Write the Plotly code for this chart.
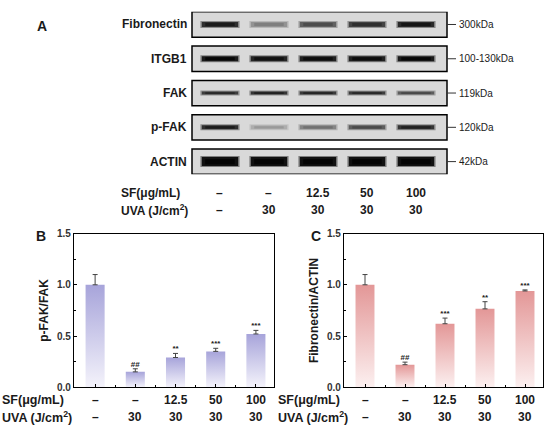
import plotly.graph_objects as go

# ---- data ----
lanes = [1, 2, 3, 4, 5]
sf_labels = ['–', '–', '12.5', '50', '100']
uva_labels = ['–', '30', '30', '30', '30']

proteins = ['Fibronectin', 'ITGB1', 'FAK', 'p-FAK', 'ACTIN']
weights = ['300kDa', '100-130kDa', '119kDa', '120kDa', '42kDa']
# band darkness per lane (0 = invisible, 1 = black)
band_fibronectin = [0.85, 0.35, 0.6, 0.75, 0.88]
band_itgb1 = [0.95, 0.9, 0.92, 0.92, 0.95]
band_fak = [0.78, 0.82, 0.8, 0.78, 0.62]
band_pfak = [0.85, 0.22, 0.42, 0.62, 0.82]
band_actin = [1.0, 1.0, 1.0, 1.0, 1.0]

pfak_mean = [1.0, 0.15, 0.29, 0.35, 0.52]
pfak_err = [0.10, 0.03, 0.04, 0.03, 0.035]
pfak_sig = ['', '##', '**', '***', '***']

fn_mean = [1.0, 0.22, 0.62, 0.765, 0.94]
fn_err = [0.10, 0.025, 0.055, 0.07, 0.01]
fn_sig = ['', '##', '***', '**', '***']

W, H = 550, 437
FONT = 'Liberation Sans'
INK = '#1a1a1a'


def py(px):
    return 1 - px / H


def px_x(px):
    return px / W


def label(text, x, y, size, xref='paper', yref='paper', xanchor='center', bold=True, **kw):
    fig.add_annotation(xref=xref, yref=yref, x=x, y=y, text=text, showarrow=False,
                       xanchor=xanchor, yanchor='middle',
                       font=dict(size=size, weight='bold' if bold else 'normal'), **kw)


bands = [band_fibronectin, band_itgb1, band_fak, band_pfak, band_actin]
band_px = [5, 5, 3, 4, 9]

fig = go.Figure()

# ---- panel A: blots ----
for r, (vals, th) in enumerate(zip(bands, band_px)):
    for lane, d in zip(lanes, vals):
        g = int(217 - 200 * d)
        layers = [
            (0.40, th + 2, 'rgb({0},{0},{0})'.format(int(217 - 90 * d))),
            (0.37, th, 'rgb({0},{0},{0})'.format(g)),
            (0.30, max(th * 0.6, 1.5), 'rgb({0},{0},{0})'.format(max(g - 20, 5))),
        ]
        for half, wd, col in layers:
            fig.add_trace(go.Scatter(
                x=[lane - half, lane + half], y=[r, r], mode='lines',
                line=dict(color=col, width=wd), xaxis='x', yaxis='y',
                hoverinfo='skip', showlegend=False))

for r, (name, kda) in enumerate(zip(proteins, weights)):
    fig.add_shape(type='rect', xref='x domain', yref='y', x0=0, x1=1,
                  y0=r - 0.369, y1=r + 0.369, line=dict(color='black', width=1.5),
                  fillcolor='#d9d9d9', layer='below')
    fig.add_shape(type='line', xref='x domain', yref='y', x0=1, x1=1 + 9 / 255,
                  y0=r, y1=r, line=dict(color='#333', width=1))
    label(name, 0, r, 12, xref='x domain', yref='y', xanchor='right', xshift=-3)
    label(kda, 1 + 10 / 255, r, 10, xref='x domain', yref='y', xanchor='left', bold=False)

label('A', px_x(42), py(21), 14)
label('SF(μg/mL)', px_x(119), py(192), 12, xanchor='left')
label('UVA (J/cm<sup>2</sup>)', px_x(119), py(210), 12, xanchor='left')
for lane, s, u in zip(lanes, sf_labels, uva_labels):
    label(s, lane, py(192), 12, xref='x')
    label(u, lane, py(210), 12, xref='x')


# ---- panels B and C: bar charts ----
def add_bars(means, errs, sig, top, bottom, xa, ya):
    for lane, m in zip(lanes, means):
        hw = 0.237
        fig.add_trace(go.Scatter(
            x=[lane - hw, lane - hw, lane + hw, lane + hw, lane - hw],
            y=[0, m, m, 0, 0], mode='lines', fill='toself',
            fillgradient=dict(type='vertical', colorscale=[[0, bottom], [1, top]]),
            line=dict(width=0), xaxis=xa, yaxis=ya, hoverinfo='skip', showlegend=False))
    fig.add_trace(go.Scatter(
        x=lanes, y=means, mode='markers', marker=dict(size=1, color='rgba(0,0,0,0)'),
        error_y=dict(type='data', symmetric=False, array=errs, arrayminus=[0] * 5,
                     width=2.5, thickness=1, color='#444'),
        xaxis=xa, yaxis=ya, hoverinfo='skip', showlegend=False))
    keep = [i for i, s in enumerate(sig) if s]
    fig.add_trace(go.Scatter(
        x=[lanes[i] for i in keep], y=[means[i] + errs[i] for i in keep],
        mode='text', text=[sig[i] for i in keep],
        textposition='top center', textfont=dict(size=8, color=INK, weight='bold'),
        xaxis=xa, yaxis=ya, hoverinfo='skip', showlegend=False))


add_bars(pfak_mean, pfak_err, pfak_sig, '#a7a4da', '#f4f3fb', 'x2', 'y2')
add_bars(fn_mean, fn_err, fn_sig, '#e39797', '#fcf0f0', 'x3', 'y3')

for xlab in [0, 276]:
    label('SF(μg/mL)', px_x(xlab), py(405), 12.5, xanchor='left')
    label('UVA (J/cm<sup>2</sup>)', px_x(xlab), py(423), 12.5, xanchor='left')
for xa in ['x2', 'x3']:
    for lane, s, u in zip(lanes, sf_labels, uva_labels):
        label(s, lane, py(405), 12, xref=xa)
        label(u, lane, py(423), 12, xref=xa)

label('B', px_x(41), py(237), 14)
label('C', px_x(316), py(237), 14)

bar_x = dict(range=[0.475, 5.45], showline=True, mirror=True, linecolor='black',
             linewidth=1.2, ticks='inside', ticklen=3, tickcolor='black',
             tickvals=lanes, showticklabels=False, showgrid=False, zeroline=False,
             minor=dict(tickvals=[1.5, 2.5, 3.5, 4.5], ticks='inside', ticklen=2,
                        tickcolor='black'))
bar_y = dict(range=[0, 1.5], showline=True, mirror=True, linecolor='black',
             linewidth=1.2, ticks='inside', ticklen=3, tickcolor='black',
             tickvals=[0, 0.5, 1.0, 1.5], tickformat='.1f', showgrid=False, zeroline=False,
             tickfont=dict(size=10, weight='bold', color='#333'),
             minor=dict(tickvals=[0.25, 0.75, 1.25], ticks='inside', ticklen=2,
                        tickcolor='black'),
             title=dict(font=dict(size=12, weight='bold'), standoff=5))

fig.update_layout(
    width=W, height=H, margin=dict(l=0, r=0, t=0, b=0),
    paper_bgcolor='white', plot_bgcolor='rgba(0,0,0,0)',
    font=dict(family=FONT, color=INK),
    xaxis=dict(domain=[px_x(192), px_x(447)], range=[0.429, 5.633], visible=False),
    yaxis=dict(domain=[py(173), py(6)], range=[4.369, -0.369], visible=False),
    xaxis2=dict(domain=[px_x(74), px_x(274)], anchor='y2', **bar_x),
    yaxis2=dict(domain=[py(392), py(234)], anchor='x2', **bar_y),
    xaxis3=dict(domain=[px_x(344), px_x(543)], anchor='y3', **bar_x),
    yaxis3=dict(domain=[py(392), py(234)], anchor='x3', **bar_y),
)
fig.update_layout(yaxis2_title_text='p-FAK/FAK', yaxis3_title_text='Fibronectin/ACTIN')

# the page body has a default margin; drop it so the figure sits at the window origin
fig.write_html('out.html', config={'displayModeBar': False},
               post_script="document.body.style.margin='0';")
